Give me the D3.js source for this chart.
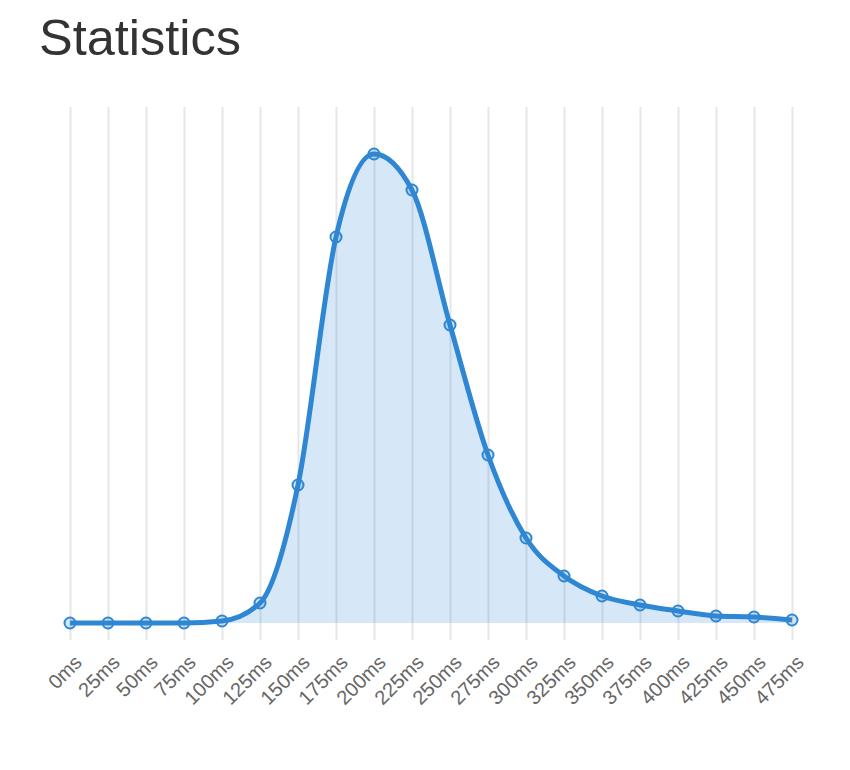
<!DOCTYPE html>
<html>
<head>
<meta charset="utf-8">
<script src="https://cdn.jsdelivr.net/npm/d3@7"></script>
<style>
  body { margin: 0; background: #fff; }
  svg { display: block; }
</style>
</head>
<body>
<svg id="chart" width="850" height="770"></svg>
<script>
const categories = ["0ms","25ms","50ms","75ms","100ms","125ms","150ms","175ms","200ms","225ms","250ms","275ms","300ms","325ms","350ms","375ms","400ms","425ms","450ms","475ms"];
const values = [0, 0, 0, 0, 2, 20, 138, 386, 469, 433, 298, 168, 85, 47, 27, 18, 12, 7, 6, 3];
const yMax = 516;
const title = "Statistics";

const svg = d3.select("#chart");
const margin = { left: 70, right: 58, top: 107, bottom: 147 };
const W = 850, H = 770;

const x = d3.scalePoint().domain(categories).range([margin.left, W - margin.right]);
const y = d3.scaleLinear().domain([0, yMax]).range([H - margin.bottom, margin.top]);

svg.append("text")
  .attr("x", 39).attr("y", 55)
  .attr("font-family", "Liberation Sans, Arial, sans-serif")
  .attr("font-size", 50.5)
  .attr("fill", "#333")
  .text(title);

// vertical grid lines via axis
const gridAxis = d3.axisBottom(x).tickSize(-(y(0) - margin.top) - 17).tickFormat("");
const grid = svg.append("g")
  .attr("transform", `translate(0,${y(0) + 17})`)
  .call(gridAxis);
grid.select(".domain").remove();
grid.selectAll("line").attr("stroke", "#e6e6e6").attr("stroke-width", 2);

// area
const area = d3.area()
  .x((d, i) => x(categories[i]))
  .y0(y(0))
  .y1(d => y(d))
  .curve(d3.curveMonotoneX);
svg.append("path")
  .datum(values)
  .attr("d", area)
  .attr("fill", "rgba(48,134,214,0.2)");

// line
const line = d3.line()
  .x((d, i) => x(categories[i]))
  .y(d => y(d))
  .curve(d3.curveMonotoneX);
svg.append("path")
  .datum(values)
  .attr("d", line)
  .attr("fill", "none")
  .attr("stroke", "#2f87d3")
  .attr("stroke-width", 5)
  .attr("stroke-linejoin", "round");

// points
svg.append("g").selectAll("circle")
  .data(values)
  .join("circle")
  .attr("cx", (d, i) => x(categories[i]))
  .attr("cy", d => y(d))
  .attr("r", 5.5)
  .attr("fill", "rgba(48,134,214,0.2)")
  .attr("stroke", "#2f87d3")
  .attr("stroke-width", 2);

// x-axis labels
const xAxis = d3.axisBottom(x).tickSize(0).tickPadding(0);
const ax = svg.append("g")
  .attr("transform", `translate(0,${y(0) + 30})`)
  .call(xAxis);
ax.select(".domain").remove();
ax.selectAll("text")
  .attr("font-family", "Liberation Sans, Arial, sans-serif")
  .attr("font-size", 20)
  .attr("fill", "#666")
  .attr("text-anchor", "end")
  .attr("dy", "0.75em")
  .attr("transform", "translate(2,0) rotate(-45)");
</script>
</body>
</html>
